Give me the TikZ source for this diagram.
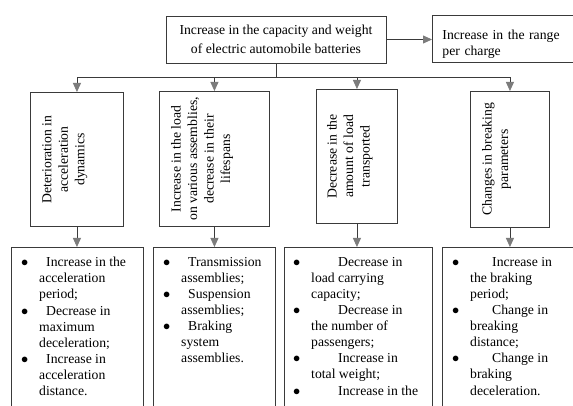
\documentclass[tikz,border=0pt]{standalone}
\usepackage{fontspec}
\setmainfont{Liberation Serif}
\usepackage{xcolor}
\usepackage{tikz}
\usetikzlibrary{arrows.meta}
\definecolor{ink}{HTML}{3A3A3A}
\definecolor{tipgray}{HTML}{7C7C7C}
\newcommand{\bul}[1]{\makebox[#1][l]{$\bullet$}}
\newcommand{\cnt}{\hspace*{18pt}}

\begin{document}
\begin{tikzpicture}[x=1pt,y=-1pt]
\tikzstyle{every node}+=[inner sep=0pt, font=\fontsize{13.7}{16.1}\selectfont]
\tikzstyle{box}=[draw=ink, line width=0.9pt]
\tikzstyle{wire}=[draw=ink, line width=0.8pt]
\tikzstyle{arr}=[wire, -{Triangle[length=9pt,width=8pt,color=tipgray]}]
\tikzstyle{list}=[anchor=north west, align=left]
\tikzstyle{vtext}=[rotate=90, anchor=north, align=center, font=\fontsize{13.7}{16.5}\selectfont]
\fill[white] (0,0) rectangle (573,406);
\useasboundingbox (0,0) rectangle (573,406);
\clip (0,0) rectangle (573,406);
% top row
\node[box, minimum width=220, minimum height=47, align=center, font=\fontsize{13.7}{19}\selectfont] (top) at (276,39.5) {Increase in the capacity and weight\\of electric automobile batteries};
\node[box, anchor=north west, minimum width=145, minimum height=47, text width=125, inner xsep=10pt, text depth=9pt, align=left] (range) at (432,15) {Increase in the range\\per charge};
\draw[arr] (top.east) -- (top.east -| range.west);
\coordinate (bus) at (276,77);
\draw[wire] (top.south) -- (bus);
% middle row
\node[box, anchor=north west, minimum width=93, minimum height=134] (dyn) at (30,92) {};
\node[box, anchor=north west, minimum width=110, minimum height=135] (load) at (159,91) {};
\node[box, anchor=north west, minimum width=81, minimum height=134] (trans) at (316,89) {};
\node[box, anchor=north west, minimum width=79, minimum height=136] (brake) at (470,91) {};
\node[vtext] (dyntx) at ([xshift=12pt]dyn.west) {Deterioration in\\acceleration\\dynamics};
\node[vtext] (loadtx) at ([xshift=12pt]load.west) {Increase in the load\\on various assemblies,\\decrease in their\\lifespans};
\node[vtext] (transtx) at ([xshift=11pt]trans.west) {Decrease in the\\amount of load\\transported};
\node[vtext] (braketx) at ([xshift=12pt]brake.west) {Changes in breaking\\parameters};
\draw[arr] (bus) -| (dyn.north);
\draw[arr] (bus) -| (load.north);
\draw[arr] (bus) -| (trans.north);
\draw[arr] (bus) -| (brake.north);
% bottom row
\node[box, anchor=north west, minimum width=132, minimum height=200] (acc) at (11,247) {};
\node[box, anchor=north west, minimum width=122, minimum height=200] (asm) at (153,247) {};
\node[box, anchor=north west, minimum width=148, minimum height=200] (cap) at (284,247) {};
\node[box, anchor=north west, minimum width=140, minimum height=200] (brk) at (442,247) {};
\draw[arr] (dyn.south) -- (dyn.south |- acc.north);
\draw[arr] (load.south) -- (load.south |- asm.north);
\draw[arr] (trans.south) -- (trans.south |- cap.north);
\draw[arr] (brake.south) -- (brake.south |- brk.north);
\node[list] (acctx) at ([xshift=10pt,yshift=-10pt]acc.north west) {\bul{25pt}Increase in the\\
\cnt acceleration\\
\cnt period;\\
\bul{25pt}Decrease in\\
\cnt maximum\\
\cnt deceleration;\\
\bul{25pt}Increase in\\
\cnt acceleration\\
\cnt distance.};
\node[list] (asmtx) at ([xshift=10pt,yshift=-10pt]asm.north west) {\bul{25pt}Transmission\\
\cnt assemblies;\\
\bul{25pt}Suspension\\
\cnt assemblies;\\
\bul{25pt}Braking\\
\cnt system\\
\cnt assemblies.};
\node[list] (captx) at ([xshift=9pt,yshift=-10pt]cap.north west) {\bul{45pt}Decrease in\\
\cnt load carrying\\
\cnt capacity;\\
\bul{45pt}Decrease in\\
\cnt the number of\\
\cnt passengers;\\
\bul{45pt}Increase in\\
\cnt total weight;\\
\bul{45pt}Increase in the};
\node[list] (brktx) at ([xshift=10pt,yshift=-10pt]brk.north west) {\bul{40pt}Increase in\\
\cnt the braking\\
\cnt period;\\
\bul{40pt}Change in\\
\cnt breaking\\
\cnt distance;\\
\bul{40pt}Change in\\
\cnt braking\\
\cnt deceleration.};
\end{tikzpicture}
\end{document}
